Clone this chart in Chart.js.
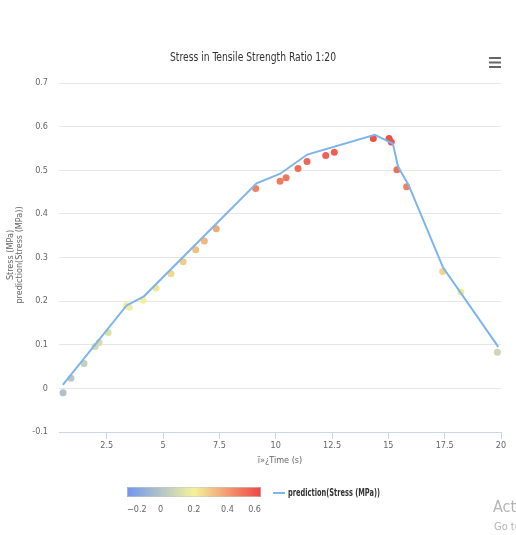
<!DOCTYPE html>
<html>
<head>
<meta charset="utf-8">
<script src="https://cdn.jsdelivr.net/npm/chart.js@4.4.1/dist/chart.umd.min.js"></script>
<style>
  body { margin: 0; background: #fff; }
  canvas { display: block; }
</style>
</head>
<body>
<canvas id="stress-chart" width="516" height="535"></canvas>
<script>
// measured stress (colour by value)
const timeMeasured = [0.56, 0.91, 1.49, 1.98, 2.16, 2.56, 3.38, 3.5, 4.12, 4.69, 5.35, 5.89, 6.45, 6.83, 7.36,
    9.11, 10.19, 10.46, 10.99, 11.39, 12.22, 12.6, 14.33, 15.03, 15.13, 15.38, 15.81, 17.41, 18.22, 19.84];
const stressMeasured = [-0.01, 0.023, 0.057, 0.096, 0.105, 0.128, 0.19, 0.186, 0.202, 0.23, 0.263, 0.29, 0.318, 0.338, 0.366,
    0.458, 0.475, 0.483, 0.504, 0.52, 0.534, 0.541, 0.573, 0.573, 0.565, 0.501, 0.462, 0.268, 0.221, 0.083];

// prediction line
const timePredicted = [0.55, 3.38, 4.15, 9.15, 10.2, 11.4, 14.4, 15.2, 15.43, 15.9, 17.43, 19.88];
const stressPredicted = [0.008, 0.19, 0.211, 0.47, 0.492, 0.536, 0.581, 0.561, 0.508, 0.466, 0.277, 0.095];

const xTicks = [2.5, 5, 7.5, 10, 12.5, 15, 17.5, 20];
const yTicks = [-0.1, 0, 0.1, 0.2, 0.3, 0.4, 0.5, 0.6, 0.7];
const colorTicks = [-0.2, 0, 0.2, 0.4, 0.6];
const colorStops = [[-0.2, [111, 150, 242]], [0.2, [244, 242, 156]], [0.6, [238, 68, 68]]];

const FONT = "'Liberation Sans Narrow', 'DejaVu Sans Condensed', 'Open Sans', sans-serif";

function colorFor(v) {
    if (v <= colorStops[0][0]) return 'rgb(' + colorStops[0][1].join(',') + ')';
    for (let i = 1; i < colorStops.length; i++) {
        const a = colorStops[i - 1], b = colorStops[i];
        if (v <= b[0]) {
            const t = (v - a[0]) / (b[0] - a[0]);
            const c = a[1].map((ch, k) => Math.round(ch + (b[1][k] - ch) * t));
            return 'rgb(' + c.join(',') + ')';
        }
    }
    return 'rgb(' + colorStops[colorStops.length - 1][1].join(',') + ')';
}

const extras = {
    id: 'extras',
    afterDraw(chart) {
        const ctx = chart.ctx;
        const area = chart.chartArea;
        ctx.save();

        // title
        ctx.fillStyle = '#333';
        ctx.font = '12px ' + FONT;
        ctx.textAlign = 'center';
        ctx.textBaseline = 'middle';
        ctx.fillText('Stress in Tensile Strength Ratio 1:20', 253, 58, 166);

        // menu icon
        ctx.strokeStyle = '#666';
        ctx.lineWidth = 2;
        [58, 62.5, 67].forEach(y => {
            ctx.beginPath();
            ctx.moveTo(489, y);
            ctx.lineTo(501, y);
            ctx.stroke();
        });

        // axis titles
        ctx.fillStyle = '#666';
        ctx.font = '9px ' + FONT;
        ctx.fillText('\u00ef\u00bb\u00bfTime (s)', (area.left + area.right) / 2, 461, 46);
        ctx.save();
        ctx.translate(11, 255);
        ctx.rotate(-Math.PI / 2);
        ctx.fillText('Stress (MPa)', 0, 0);
        ctx.fillText('prediction(Stress (MPa))', 0, 9);
        ctx.restore();

        // colour axis legend
        const bx = 127, by = 487, bw = 134, bh = 10;
        const cmin = colorTicks[0], cmax = colorTicks[colorTicks.length - 1];
        const grad = ctx.createLinearGradient(bx, 0, bx + bw, 0);
        colorStops.forEach(s => grad.addColorStop((s[0] - cmin) / (cmax - cmin), 'rgb(' + s[1].join(',') + ')'));
        ctx.fillStyle = grad;
        ctx.fillRect(bx, by, bw, bh);
        ctx.strokeStyle = 'rgba(200,200,200,0.6)';
        ctx.lineWidth = 1;
        ctx.strokeRect(bx + 0.5, by + 0.5, bw - 1, bh - 1);

        ctx.fillStyle = '#666';
        ctx.font = '9px ' + FONT;
        colorTicks.forEach((v, i) => {
            let x = bx + (v - cmin) / (cmax - cmin) * bw;
            if (i === 0) ctx.textAlign = 'left', x = bx;
            else if (i === colorTicks.length - 1) ctx.textAlign = 'right', x = bx + bw;
            else ctx.textAlign = 'center';
            const label = v < 0 ? '\u2212' + Math.abs(v) : String(v);
            ctx.fillText(label, x, 510);
        });

        // series legend
        ctx.strokeStyle = '#7cb5ec';
        ctx.lineWidth = 2;
        ctx.beginPath();
        ctx.moveTo(273, 493);
        ctx.lineTo(285, 493);
        ctx.stroke();
        ctx.fillStyle = '#333';
        ctx.font = 'bold 10px ' + FONT;
        ctx.textAlign = 'left';
        ctx.fillText('prediction(Stress (MPa))', 288, 493, 92);

        // watermark
        ctx.fillStyle = '#b4b4b4';
        ctx.font = '16px ' + FONT;
        ctx.fillText('Activate Windows', 493, 508);
        ctx.font = '11px ' + FONT;
        ctx.fillText('Go to Settings to activate Windows.', 494, 527);

        ctx.restore();
    }
};

new Chart(document.getElementById('stress-chart'), {
    data: {
        datasets: [{
            type: 'line',
            label: 'prediction(Stress (MPa))',
            data: timePredicted.map((t, i) => ({ x: t, y: stressPredicted[i] })),
            borderColor: '#7cb5ec',
            borderWidth: 2,
            pointRadius: 0,
            tension: 0,
            fill: false,
            order: 0
        }, {
            type: 'scatter',
            label: 'Stress (MPa)',
            data: timeMeasured.map((t, i) => ({ x: t, y: stressMeasured[i] })),
            backgroundColor: c => colorFor(stressMeasured[c.dataIndex]),
            borderWidth: 0,
            pointRadius: 3.5,
            order: 1
        }]
    },
    options: {
        responsive: false,
        animation: false,
        layout: { padding: { top: 83, right: 15, bottom: 73, left: 0 } },
        plugins: {
            legend: { display: false },
            title: { display: false },
            tooltip: { enabled: false }
        },
        scales: {
            x: {
                type: 'linear',
                min: 0.38,
                max: 20,
                afterBuildTicks: s => { s.ticks = xTicks.map(v => ({ value: v })); },
                afterFit: s => { s.height = 30; },
                grid: { color: 'rgba(0,0,0,0)', tickColor: '#ccd6eb', tickLength: 7, drawTicks: true },
                border: { display: true, color: '#ccd6eb', width: 1 },
                ticks: { color: '#666', font: { size: 9, family: FONT }, padding: 1, maxRotation: 0, callback: v => String(v) }
            },
            y: {
                type: 'linear',
                min: -0.1,
                max: 0.7,
                afterBuildTicks: s => { s.ticks = yTicks.map(v => ({ value: v })); },
                afterFit: s => { s.width = 59; },
                grid: { color: '#e6e6e6', drawTicks: false },
                border: { display: false },
                ticks: { color: '#666', font: { size: 9, family: FONT }, padding: 11, callback: v => String(v) }
            }
        }
    },
    plugins: [extras]
});
</script>
</body>
</html>
